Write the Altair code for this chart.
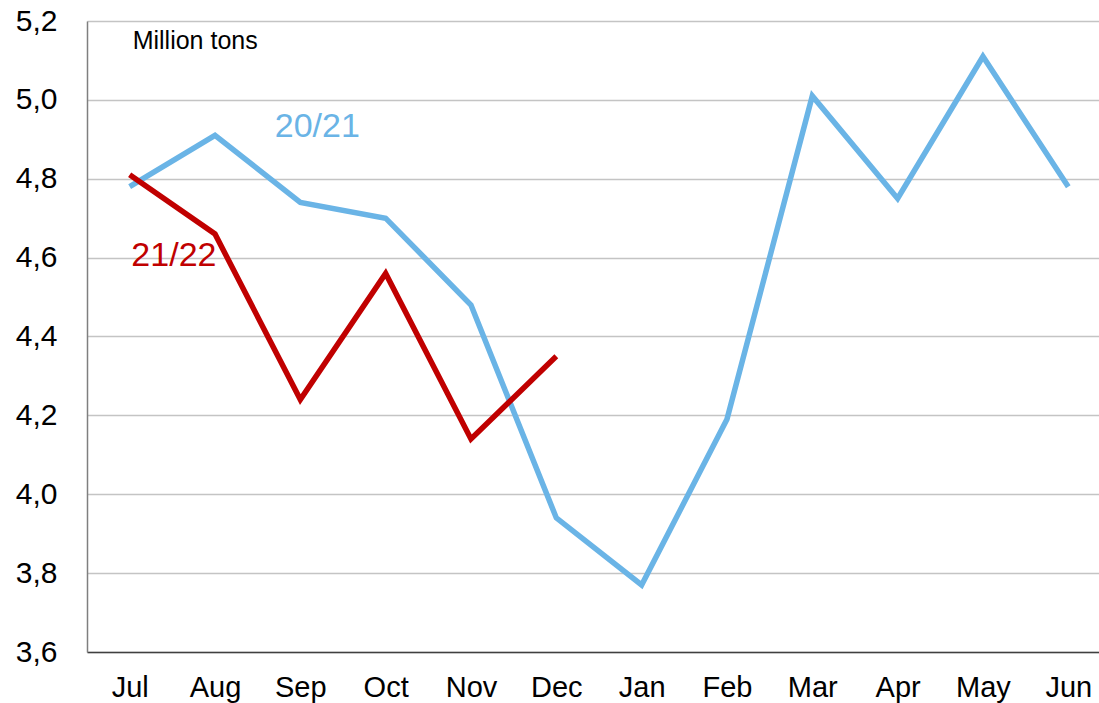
import altair as alt
import pandas as pd

# Marketing year months (Jul..Jun)
months = ["Jul", "Aug", "Sep", "Oct", "Nov", "Dec", "Jan", "Feb", "Mar", "Apr", "May", "Jun"]

# Monthly volumes, million tons
season_2021 = [4.78, 4.91, 4.74, 4.70, 4.48, 3.94, 3.77, 4.19, 5.01, 4.75, 5.11, 4.78]
season_2122 = [4.81, 4.66, 4.24, 4.56, 4.14, 4.35]

seasons = ["20/21", "21/22"]
colors = ["#6AB4E6", "#C00000"]

rows = []
for i, v in enumerate(season_2021):
    rows.append({"idx": i, "month": months[i], "value": v, "season": "20/21"})
for i, v in enumerate(season_2122):
    rows.append({"idx": i, "month": months[i], "value": v, "season": "21/22"})
df = pd.DataFrame(rows)

# Series labels and unit note, placed in data coordinates
labels = pd.DataFrame({
    "idx": [1.70, 0.02],
    "value": [4.906, 4.579],
    "text": seasons,
    "season": seasons,
})
unit = pd.DataFrame({"idx": [0.035], "value": [5.129], "text": ["Million tons"]})

FONT = "Liberation Sans"
month_expr = "[" + ",".join(f"'{m}'" for m in months) + "][datum.value]"

x_scale = alt.Scale(domain=[-0.5, 11.36], nice=False, zero=False)
y_scale = alt.Scale(domain=[3.6, 5.2], nice=False, zero=False)

x_enc = alt.X(
    "idx:Q",
    scale=x_scale,
    axis=alt.Axis(
        title=None,
        values=list(range(len(months))),
        labelExpr=month_expr,
        grid=False,
        ticks=False,
        domainColor="#404040",
        domainWidth=1.5,
        labelFont=FONT,
        labelFontSize=29,
        labelColor="#000000",
        labelPadding=21,
        labelFlush=False,
    ),
)
y_enc = alt.Y(
    "value:Q",
    scale=y_scale,
    axis=alt.Axis(
        title=None,
        values=[3.6, 3.8, 4.0, 4.2, 4.4, 4.6, 4.8, 5.0, 5.2],
        labelExpr="replace(format(datum.value, '.1f'), '.', ',')",
        grid=True,
        gridColor="#C4C4C4",
        gridWidth=1.5,
        ticks=False,
        domainColor="#7F7F7F",
        domainWidth=1.5,
        labelFont=FONT,
        labelFontSize=30,
        labelColor="#000000",
        labelPadding=30,
        labelFlush=False,
    ),
)

color_scale = alt.Scale(domain=seasons, range=colors)

lines = alt.Chart(df).mark_line(strokeWidth=5.5, strokeJoin="miter", strokeCap="butt").encode(
    x=x_enc,
    y=y_enc,
    color=alt.Color("season:N", scale=color_scale, legend=None),
    detail="season:N",
)

series_text = alt.Chart(labels).mark_text(
    align="left", baseline="alphabetic", font=FONT, fontSize=34
).encode(
    x=alt.X("idx:Q", scale=x_scale),
    y=alt.Y("value:Q", scale=y_scale),
    text="text:N",
    color=alt.Color("season:N", scale=color_scale, legend=None),
)

unit_text = alt.Chart(unit).mark_text(
    align="left", baseline="alphabetic", font=FONT, fontSize=25, color="#000000"
).encode(
    x=alt.X("idx:Q", scale=x_scale),
    y=alt.Y("value:Q", scale=y_scale),
    text="text:N",
)

chart = (
    alt.layer(lines, series_text, unit_text)
    .properties(
        width=1012,
        height=631,
        padding={"left": 87, "top": 21, "right": 0, "bottom": 51},
        autosize=alt.AutoSizeParams(type="none"),
        background="#FFFFFF",
    )
    .configure_view(stroke=None)
)

chart.save("out.html", embed_options={"renderer": "svg", "actions": False})
